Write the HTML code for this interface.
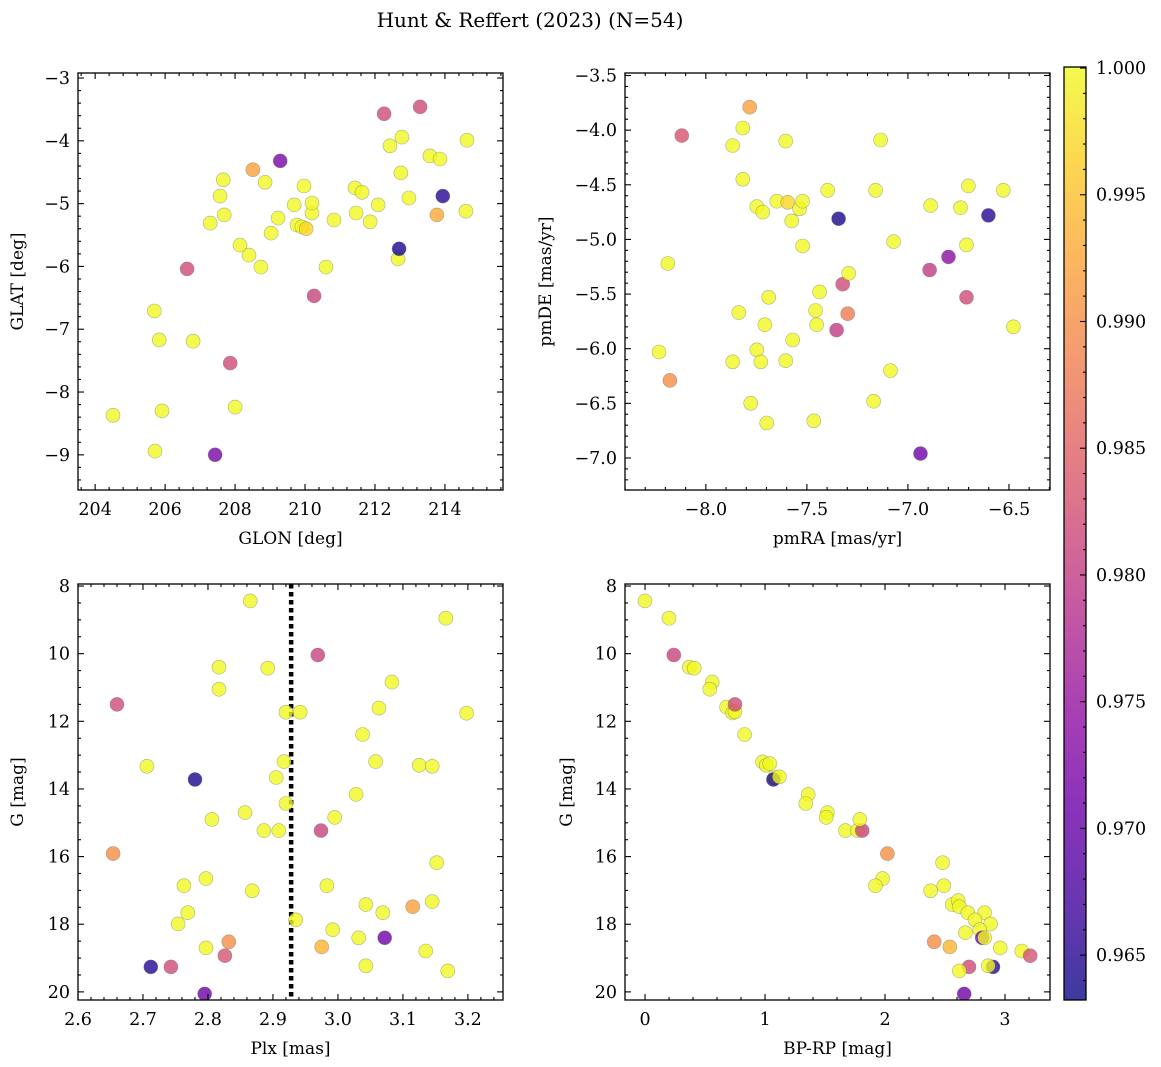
<!DOCTYPE html>
<html><head><meta charset="utf-8"><style>
html,body{margin:0;padding:0;background:#fff;}
svg{display:block;font-family:"DejaVu Serif","Liberation Serif",serif;}
</style></head><body>
<svg id="fig" width="1161" height="1067" viewBox="0 0 1161 1067" xmlns="http://www.w3.org/2000/svg">
<defs>
<linearGradient id="plasma" x1="0" y1="1" x2="0" y2="0">
<stop offset="0" stop-color="#0d0887"/><stop offset="0.1" stop-color="#41049d"/><stop offset="0.2" stop-color="#6a00a8"/><stop offset="0.3" stop-color="#8f0da4"/><stop offset="0.4" stop-color="#b12a90"/><stop offset="0.5" stop-color="#cc4778"/><stop offset="0.6" stop-color="#e16462"/><stop offset="0.7" stop-color="#f2844b"/><stop offset="0.8" stop-color="#fca636"/><stop offset="0.9" stop-color="#fcce25"/><stop offset="1" stop-color="#f0f921"/>
</linearGradient>
</defs>
<text x="530" y="27" font-size="20" text-anchor="middle">Hunt &amp; Reffert (2023) (N=54)</text>
</svg>
<script>
// ---- Panel 1: GLON vs GLAT ----
const glon = [204.51,205.71,205.69,205.83,205.91,206.63,206.8,207.29,207.43,207.57,207.66,207.69,207.86,208.0,208.14,208.4,208.51,208.74,208.86,209.03,209.23,209.29,209.69,209.77,209.91,209.97,210.03,210.2,210.2,210.26,210.6,210.83,211.43,211.46,211.63,211.86,212.09,212.26,212.43,212.66,212.69,212.74,212.77,212.97,213.29,213.57,213.77,213.86,213.94,214.6,214.63];
const glat = [-8.37,-8.94,-6.71,-7.17,-8.30,-6.04,-7.19,-5.31,-9.0,-4.88,-4.62,-5.18,-7.54,-8.24,-5.66,-5.82,-4.46,-6.01,-4.66,-5.47,-5.23,-4.32,-5.02,-5.34,-5.37,-4.72,-5.40,-5.15,-4.99,-6.47,-6.01,-5.26,-4.75,-5.15,-4.82,-5.29,-5.02,-3.57,-4.08,-5.88,-5.72,-4.51,-3.94,-4.91,-3.46,-4.24,-5.18,-4.29,-4.88,-5.12,-3.99];
const prob1 = [1,1,1,1,1,0.982,1,1,0.972,1,1,1,0.982,1,1,1,0.992,1,1,1,1,0.972,1,1,1,1,0.997,1,1,0.981,1,1,1,1,1,1,1,0.982,1,1,0.964,1,1,1,0.982,1,0.993,1,0.965,1,1];
const ticks1x = [204,206,208,210,212,214];
const ticks1y = [-3,-4,-5,-6,-7,-8,-9];

// ---- Panel 2: pmRA vs pmDE ----
const pmra = [-8.232,-8.188,-8.178,-8.119,-7.867,-7.867,-7.837,-7.817,-7.817,-7.783,-7.778,-7.748,-7.748,-7.728,-7.718,-7.708,-7.699,-7.689,-7.649,-7.605,-7.605,-7.595,-7.575,-7.570,-7.536,-7.521,-7.521,-7.466,-7.457,-7.452,-7.437,-7.397,-7.353,-7.343,-7.323,-7.298,-7.293,-7.170,-7.160,-7.135,-7.071,-7.086,-6.938,-6.893,-6.888,-6.799,-6.740,-6.710,-6.710,-6.701,-6.602,-6.528,-6.478];
const pmde = [-6.03,-5.22,-6.29,-4.05,-4.14,-6.12,-5.67,-3.98,-4.45,-3.79,-6.50,-4.70,-6.01,-6.12,-4.75,-5.78,-6.68,-5.53,-4.65,-4.10,-6.11,-4.66,-4.83,-5.92,-4.72,-4.65,-5.06,-6.66,-5.65,-5.78,-5.48,-4.55,-5.83,-4.81,-5.41,-5.68,-5.31,-6.48,-4.55,-4.09,-5.02,-6.20,-6.96,-5.28,-4.69,-5.16,-4.71,-5.53,-5.05,-4.51,-4.78,-4.55,-5.80];
const prob2 = [1,1,0.990,0.983,1,1,1,1,1,0.992,1,1,1,1,1,1,1,1,1,1,1,0.997,1,1,1,1,1,1,1,1,1,1,0.980,0.964,0.982,0.988,1,1,1,1,1,1,0.971,0.980,1,0.974,1,0.982,1,1,0.965,1,1];
const ticks2x = [-8.0,-7.5,-7.0,-6.5];
const ticks2y = [-3.5,-4.0,-4.5,-5.0,-5.5,-6.0,-6.5,-7.0];

// ---- Panel 3: Plx vs G ----
const plx = [2.865,3.166,2.969,2.817,2.892,2.817,3.083,2.660,2.920,2.942,3.063,3.198,3.038,2.706,2.917,3.058,3.125,3.145,2.905,2.780,2.857,2.920,3.028,2.806,2.995,2.886,2.909,2.974,2.654,3.152,2.797,2.763,2.983,2.868,2.769,3.043,3.069,3.145,3.115,2.754,2.935,2.992,2.832,2.797,2.975,3.032,3.072,3.135,2.826,2.712,2.743,3.043,3.169,2.795];
const gmag3 = [8.44,8.95,10.04,10.40,10.43,11.05,10.84,11.50,11.73,11.73,11.61,11.76,12.39,13.33,13.19,13.19,13.30,13.33,13.66,13.72,14.70,14.43,14.16,14.90,14.84,15.23,15.23,15.23,15.91,16.18,16.65,16.86,16.86,17.01,17.66,17.42,17.66,17.33,17.48,17.99,17.87,18.16,18.52,18.70,18.67,18.40,18.40,18.79,18.93,19.26,19.26,19.23,19.38,20.06];
const prob3 = [1,1,0.981,1,1,1,1,0.982,1,1,1,1,1,1,1,1,1,1,1,0.964,1,1,1,1,1,1,1,0.981,0.990,1,1,1,1,1,1,1,1,1,0.992,1,1,1,0.990,1,0.994,1,0.971,1,0.983,0.965,0.982,1,1,0.971];
const plxMean = [2.928];
const ticks3x = [2.6,2.7,2.8,2.9,3.0,3.1,3.2];
const ticksGy = [8,10,12,14,16,18,20];

// ---- Panel 4: BP-RP vs G ----
const bprp = [0.0,0.2,0.24,0.37,0.41,0.56,0.54,0.68,0.73,0.75,0.75,0.83,0.98,1.01,1.04,1.08,1.07,1.12,1.36,1.34,1.52,1.51,1.67,1.77,1.81,1.79,2.02,2.48,1.98,1.92,2.49,2.38,2.56,2.61,2.62,2.69,2.83,2.75,2.88,2.67,2.79,2.81,2.83,2.41,2.54,2.96,3.14,3.21,2.90,2.70,2.86,2.62,2.66];
const gmag4 = [8.44,8.95,10.04,10.40,10.43,10.84,11.05,11.58,11.75,11.72,11.50,12.39,13.20,13.30,13.25,13.66,13.72,13.64,14.16,14.43,14.70,14.84,15.23,15.23,15.23,14.90,15.91,16.18,16.65,16.86,16.86,17.01,17.42,17.30,17.48,17.66,17.66,17.87,17.99,18.25,18.16,18.40,18.40,18.52,18.67,18.70,18.79,18.93,19.26,19.26,19.23,19.38,20.06];
const prob4 = [1,1,0.981,1,1,1,1,1,1,1,0.982,1,1,1,1,1,0.964,1,1,1,1,1,1,1,0.981,1,0.990,1,1,1,1,1,1,1,1,1,1,1,1,1,1,0.971,1,0.990,0.994,1,1,0.983,0.965,0.982,1,1,0.971];
const ticks4x = [0,1,2,3];

// colorbar
const cbTicks = [0.965,0.970,0.975,0.980,0.985,0.990,0.995,1.000];
const cbMin = 0.96323, cbMax = 1.00004;

const NS = "http://www.w3.org/2000/svg";
const svg = document.getElementById('fig');
function mk(tag, attrs, parent){ const e=document.createElementNS(NS,tag); for(const k in attrs) e.setAttribute(k,attrs[k]); (parent||svg).appendChild(e); return e; }

const plasma = ["#0d0887","#41049d","#6a00a8","#8f0da4","#b12a90","#cc4778","#e16462","#f2844b","#fca636","#fcce25","#f0f921"];
function hex2rgb(h){return [parseInt(h.slice(1,3),16),parseInt(h.slice(3,5),16),parseInt(h.slice(5,7),16)];}
function cmap(v){
  let t=(v-cbMin)/(cbMax-cbMin); t=Math.max(0,Math.min(1,t));
  const p=t*10, i=Math.min(9,Math.floor(p)), f=p-i;
  const a=hex2rgb(plasma[i]), b=hex2rgb(plasma[i+1]);
  return `rgb(${a.map((x,k)=>Math.round(x+(b[k]-x)*f)).join(',')})`;
}
function fmt(v,d){ const s=Math.abs(v).toFixed(d); return (v<0?'\u2212':'')+s; }

function panel(o){
  const {name,L,R,T,B,x0,x1,y0,y1,xt,yt,xminor,yminor,xd,yd,xs,ys,cs,xlabel,ylabel,ylx} = o;
  const g = mk('g',{});
  
  
  const sx = v => L+(v-x0)/(x1-x0)*(R-L);
  const sy = v => T+(v-y0)/(y1-y0)*(B-T);
  const cid='clip-'+name;
  const cp=mk('clipPath',{id:cid},g); mk('rect',{x:L,y:T,width:R-L,height:B-T},cp);
  const pg = mk('g',{'clip-path':`url(#${cid})`},g);
  if(o.extra) o.extra(pg,sx,sy);
  for(let i=0;i<xs.length;i++){
    const c = mk('circle',{cx:sx(xs[i]).toFixed(1),cy:sy(ys[i]).toFixed(1),r:7,fill:cmap(cs[i]),'fill-opacity':0.8,stroke:'#666','stroke-opacity':0.5,'stroke-width':0.6},pg);
    
    
  }
  const tk = mk('g',{stroke:'#000','stroke-width':1.1},g);
  const xa=Math.min(x0,x1), xb=Math.max(x0,x1), ya=Math.min(y0,y1), yb=Math.max(y0,y1);
  for(let v=Math.ceil(xa/xminor-1e-6)*xminor; v<=xb+1e-9; v+=xminor){
    const X=sx(v); const maj = xt.some(t=>Math.abs(t-v)<xminor/3); const l=maj?6:3;
    mk('line',{x1:X,x2:X,y1:B,y2:B-l},tk); mk('line',{x1:X,x2:X,y1:T,y2:T+l},tk);
  }
  for(let v=Math.ceil(ya/yminor-1e-6)*yminor; v<=yb+1e-9; v+=yminor){
    const Y=sy(v); const maj = yt.some(t=>Math.abs(t-v)<yminor/3); const l=maj?6:3;
    mk('line',{y1:Y,y2:Y,x1:L,x2:L+l},tk); mk('line',{y1:Y,y2:Y,x1:R,x2:R-l},tk);
  }
  mk('rect',{x:L,y:T,width:R-L,height:B-T,fill:'none',stroke:'#000','stroke-width':1.3},g);
  xt.forEach(v=>{ const t=mk('text',{x:sx(v),y:B+25,'font-size':17.5,'text-anchor':'middle'},g); t.textContent=fmt(v,xd);
      });
  yt.forEach(v=>{ const t=mk('text',{x:L-8,y:sy(v)+6,'font-size':17.5,'text-anchor':'end'},g); t.textContent=fmt(v,yd);
      });
  const xl=mk('text',{x:(L+R)/2,y:B+54,'font-size':17,'text-anchor':'middle'},g); xl.textContent=xlabel;
   
  const cy=(T+B)/2;
  const yl=mk('text',{x:ylx,y:cy,'font-size':17,'text-anchor':'middle',transform:`rotate(-90 ${ylx} ${cy})`},g); yl.textContent=ylabel;
   
}

panel({name:'glon-glat-panel',L:78,R:503,T:73,B:490,x0:203.51,x1:215.66,y0:-2.92,y1:-9.56,xt:ticks1x,yt:ticks1y,xminor:0.4,yminor:0.2,xd:0,yd:0,xs:glon,ys:glat,cs:prob1,xlabel:'GLON [deg]',ylabel:'GLAT [deg]',ylx:23});
panel({name:'pm-panel',L:625,R:1050,T:73,B:490,x0:-8.40,x1:-6.297,y0:-3.477,y1:-7.293,xt:ticks2x,yt:ticks2y,xminor:0.1,yminor:0.1,xd:1,yd:1,xs:pmra,ys:pmde,cs:prob2,xlabel:'pmRA [mas/yr]',ylabel:'pmDE [mas/yr]',ylx:551});
panel({name:'plx-g-panel',L:78,R:503,T:584,B:1000,x0:2.6,x1:3.254,y0:7.94,y1:20.24,xt:ticks3x,yt:ticksGy,xminor:0.02,yminor:0.5,xd:1,yd:0,xs:plx,ys:gmag3,cs:prob3,xlabel:'Plx [mas]',ylabel:'G [mag]',ylx:23,
  extra:(pg,sx,sy)=>{ const l=mk('line',{x1:sx(plxMean[0]),x2:sx(plxMean[0]),y1:0,y2:1067,stroke:'#000','stroke-width':4.5,'stroke-dasharray':'4.5 3.5'},pg);
      }});
panel({name:'cmd-panel',L:625,R:1050,T:584,B:1000,x0:-0.167,x1:3.375,y0:7.94,y1:20.24,xt:ticks4x,yt:ticksGy,xminor:0.2,yminor:0.5,xd:0,yd:0,xs:bprp,ys:gmag4,cs:prob4,xlabel:'BP-RP [mag]',ylabel:'G [mag]',ylx:572});

const cb = mk('g',{});


const cL=1064,cR=1086,cT=67,cB=1000;
mk('rect',{x:cL,y:cT,width:cR-cL,height:cB-cT,fill:'url(#plasma)','fill-opacity':0.8},cb);
const cys = v => cB-(v-cbMin)/(cbMax-cbMin)*(cB-cT);
for(let k=964;k<=1000;k++){ const v=k/1000; const Y=cys(v); const maj=k%5===0;
  mk('line',{x1:cR,x2:cR-(maj?6:3),y1:Y,y2:Y,stroke:'#000','stroke-width':1.1},cb); }
mk('rect',{x:cL,y:cT,width:cR-cL,height:cB-cT,fill:'none',stroke:'#000','stroke-width':1.3},cb);
cbTicks.forEach(v=>{ const t=mk('text',{x:cR+10,y:cys(v)+6,'font-size':17.5},cb); t.textContent=v.toFixed(3);
    });
</script>
</body></html>
